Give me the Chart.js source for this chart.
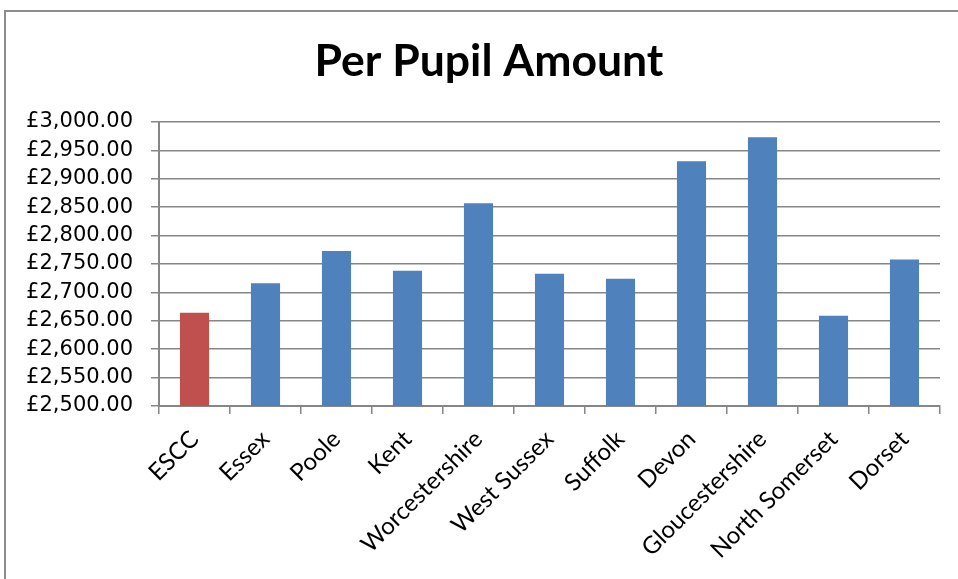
<!DOCTYPE html>
<html>
<head>
<meta charset="utf-8">
<script src="https://cdn.jsdelivr.net/npm/chart.js@4"></script>
<style>
  html, body { margin: 0; padding: 0; background: #fff; overflow: hidden; width: 958px; height: 579px; }
  #frame { position: absolute; left: 4px; top: 10px; width: 968px; height: 600px; border: 2px solid #8d8d8d; background: #fff; }
  #wrap { position: absolute; left: 0; top: 0; width: 966px; height: 600px; }
</style>
</head>
<body>
<div id="frame"><div id="wrap"><canvas id="c"></canvas></div></div>
<script>
const titleText = "Per Pupil Amount";
const categories = ["ESCC", "Essex", "Poole", "Kent", "Worcestershire", "West Sussex", "Suffolk", "Devon", "Gloucestershire", "North Somerset", "Dorset"];
const amounts = [2664, 2716, 2773, 2738, 2857, 2733, 2724, 2931, 2973, 2659, 2758];
const highlightCategory = "ESCC";
const yMin = 2500;
const yMax = 3000;
const yStep = 50;

const colors = categories.map(c => c === highlightCategory ? "#C0504D" : "#4F81BD");

const fmt = v => "£" + Number(v).toLocaleString("en-GB", { minimumFractionDigits: 2, maximumFractionDigits: 2 });

new Chart(document.getElementById("c"), {
  type: "bar",
  data: {
    labels: categories,
    datasets: [{
      label: titleText,
      data: amounts,
      backgroundColor: colors,
      borderWidth: 0,
      barPercentage: 0.41,
      categoryPercentage: 1.0
    }]
  },
  options: {
    responsive: true,
    maintainAspectRatio: false,
    animation: false,
    layout: { padding: { left: 0, right: 0, top: 0, bottom: 0 } },
    plugins: {
      legend: { display: false },
      tooltip: { enabled: false },
      title: {
        display: true,
        text: titleText,
        color: "#000",
        font: { family: "Lato", weight: "bold", size: 44.5 },
        padding: { top: 23, bottom: 33.6 }
      }
    },
    scales: {
      x: {
        grid: { display: true, drawOnChartArea: false, drawTicks: true, tickLength: 8, color: "#868686", lineWidth: 1.5, offset: true },
        border: { display: true, color: "#868686", width: 2 },
        ticks: {
          color: "#000",
          font: { family: "Lato", size: 24 },
          minRotation: 45,
          maxRotation: 45,
          autoSkip: false,
          padding: 11
        },
        afterFit: s => { s.height = 206; }
      },
      y: {
        min: yMin,
        max: yMax,
        grid: { color: "#868686", lineWidth: 1.5, tickLength: 8, drawTicks: true },
        border: { display: true, color: "#868686", width: 2 },
        ticks: {
          stepSize: yStep,
          color: "#000",
          font: { family: "DejaVu Sans", size: 21 },
          padding: 18,
          callback: v => fmt(v)
        },
        afterFit: s => { s.width = 153; }
      },
      yRightSpace: {
        type: "linear",
        position: "right",
        display: true,
        min: yMin,
        max: yMax,
        grid: { display: false, drawOnChartArea: false, drawTicks: false },
        border: { display: false },
        ticks: { display: false },
        afterFit: s => { s.width = 32; }
      }
    }
  }
});
</script>
</body>
</html>
